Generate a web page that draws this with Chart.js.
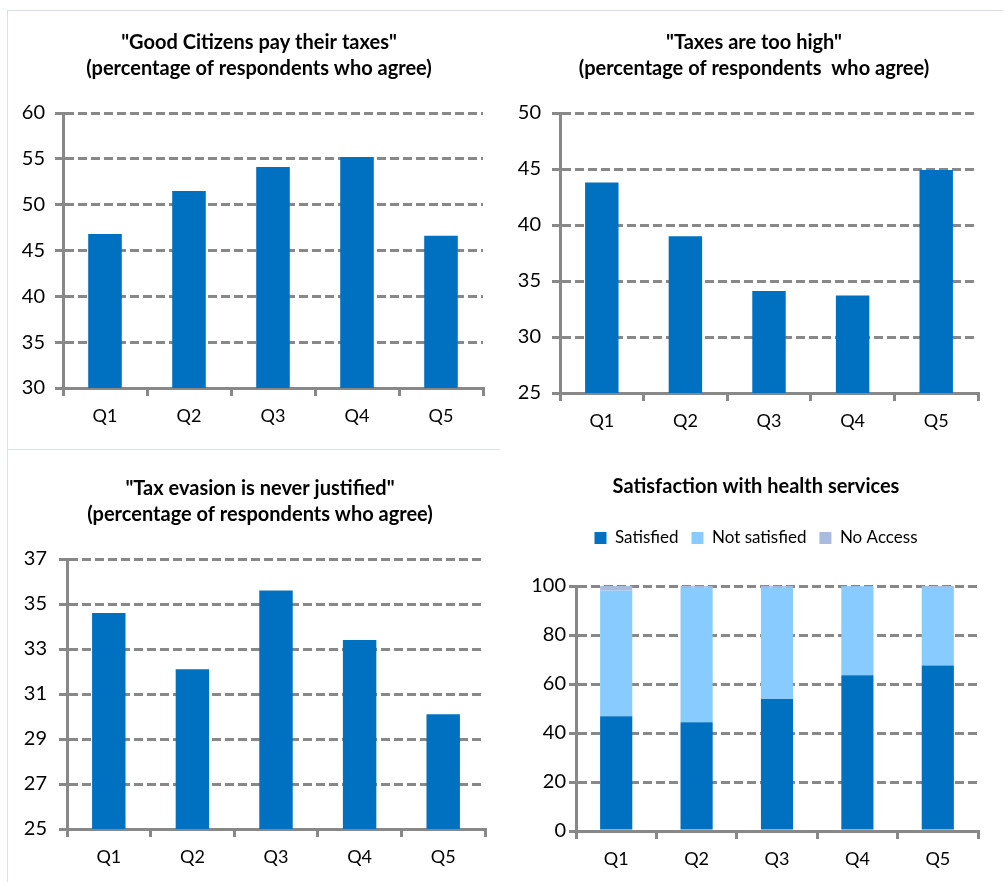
<!DOCTYPE html>
<html>
<head>
<meta charset="utf-8">
<script src="https://cdn.jsdelivr.net/npm/chart.js@4.4.3/dist/chart.umd.min.js"></script>
<style>
  body { margin: 0; background: #fff; width: 1007px; height: 882px; position: relative; overflow: hidden; }
  .panel { position: absolute; }
  .rule { position: absolute; background: #d9e0ea; }
</style>
</head>
<body>
<div class="rule" style="left:7px;top:10px;width:996px;height:1px"></div>
<div class="rule" style="left:7px;top:10px;width:1px;height:872px"></div>
<div class="rule" style="left:7px;top:449px;width:493px;height:1px"></div>

<div class="panel" style="left:0;top:0;width:518px;height:445px"><canvas id="citizens-chart"></canvas></div>
<div class="panel" style="left:501px;top:0;width:506px;height:445px"><canvas id="taxes-chart"></canvas></div>
<div class="panel" style="left:0;top:445px;width:520px;height:437px"><canvas id="evasion-chart"></canvas></div>
<div class="panel" style="left:505px;top:445px;width:502px;height:437px"><canvas id="health-chart"></canvas></div>

<script>
// values

const quintiles = ['Q1', 'Q2', 'Q3', 'Q4', 'Q5'];

const goodCitizens = [46.8, 51.5, 54.1, 55.2, 46.6];
const taxesTooHigh = [43.8, 39.0, 34.1, 33.7, 44.9];
const evasionNeverJustified = [34.6, 32.1, 35.6, 33.4, 30.1];

const satisfied = [46.8, 44.4, 53.9, 63.6, 67.6];
const notSatisfied = [51.4, 55.1, 45.6, 36.3, 32.0];
const noAccess = [1.8, 0.5, 0.5, 0.1, 0.4];

// [min, max, step]
const citizensAxis = [30, 60, 5];
const taxesAxis = [25, 50, 5];
const evasionAxis = [25, 37, 2];
const healthAxis = [0, 100, 20];

const citizensTitle = ['"Good Citizens pay their taxes"', '(percentage of respondents who agree)'];
const taxesTitle = ['"Taxes are too high"', '(percentage of respondents  who agree)'];
const evasionTitle = ['"Tax evasion is never justified"', '(percentage of respondents who agree)'];
const healthTitle = 'Satisfaction with health services';

// styling

const fontFamily = 'Lato, "Noto Sans", sans-serif';
const axisGrey = '#888888';
const barBlue = '#0070C0';
const lightBlue = '#88CBFF';
const greyBlue = '#A9BCDF';

// pushes the plot area down below the legend
const legendGap = {
    id: 'legendGap',
    beforeInit(chart) {
        if (!chart.legend) return;
        const fit = chart.legend.fit;
        chart.legend.fit = function () {
            fit.call(this);
            this.height += 29.5;
        };
    },
};

function makeChart(id, opts) {
    const [min, max, step] = opts.axis;
    const stacked = opts.datasets.length > 1;
    return new Chart(document.getElementById(id), {
        type: 'bar',
        data: {
            labels: quintiles,
            datasets: opts.datasets.map((ds) => ({
                label: ds.label,
                data: ds.data,
                backgroundColor: ds.color,
                borderWidth: 0,
                categoryPercentage: 1,
                barPercentage: 0.4,
            })),
        },
        plugins: opts.legend ? [legendGap] : [],
        options: {
            responsive: true,
            maintainAspectRatio: false,
            animation: false,
            layout: { padding: 0 },
            plugins: {
                title: {
                    display: true,
                    text: opts.title,
                    color: '#000',
                    font: { family: fontFamily, size: 20, weight: 'bold', lineHeight: '26px' },
                    padding: { top: opts.titleTop, bottom: opts.titleBottom },
                },
                legend: opts.legend ? {
                    display: true,
                    position: 'top',
                    labels: {
                        color: '#000',
                        boxWidth: 12,
                        boxHeight: 12,
                        padding: 13,
                        font: { family: fontFamily, size: 17 },
                    },
                } : { display: false },
                tooltip: { enabled: false },
            },
            scales: {
                x: {
                    stacked,
                    grid: {
                        offset: true,
                        drawOnChartArea: false,
                        drawTicks: true,
                        tickLength: 8,
                        color: axisGrey,
                        lineWidth: 3,
                    },
                    border: { display: true, color: axisGrey, width: 3 },
                    ticks: { color: '#000', padding: 9, font: { family: fontFamily, size: 18 } },
                    afterFit: (scale) => { scale.height = opts.xHeight; },
                },
                y: {
                    stacked,
                    min,
                    max,
                    grid: {
                        color: axisGrey,
                        lineWidth: 3,
                        tickLength: opts.tickLength,
                        tickColor: axisGrey,
                        tickWidth: 3,
                    },
                    border: { display: true, color: axisGrey, width: 3, dash: [9, 4] },
                    ticks: {
                        stepSize: step,
                        color: '#000',
                        padding: opts.tickPad,
                        font: { family: fontFamily, size: 20 },
                    },
                    afterFit: (scale) => { scale.width = opts.yWidth; },
                },
                // empty strip on the right so the title centres like the original
                spacer: {
                    type: 'linear',
                    position: 'right',
                    grid: { display: false, drawOnChartArea: false },
                    border: { display: false },
                    ticks: { display: false },
                    afterFit: (scale) => { scale.width = opts.spacer; },
                },
            },
        },
    });
}

function main() {
    makeChart('citizens-chart', {
        title: citizensTitle,
        datasets: [{ label: 'Agree', data: goodCitizens, color: barBlue }],
        axis: citizensAxis,
        yWidth: 63, spacer: 35, xHeight: 57,
        titleTop: 30, titleBottom: 31, tickLength: 8, tickPad: 10,
    });

    makeChart('taxes-chart', {
        title: taxesTitle,
        datasets: [{ label: 'Agree', data: taxesTooHigh, color: barBlue }],
        axis: taxesAxis,
        yWidth: 59, spacer: 29, xHeight: 52,
        titleTop: 30, titleBottom: 31, tickLength: 8, tickPad: 11,
    });

    makeChart('evasion-chart', {
        title: evasionTitle,
        datasets: [{ label: 'Agree', data: evasionNeverJustified, color: barBlue }],
        axis: evasionAxis,
        yWidth: 67, spacer: 35, xHeight: 53,
        titleTop: 31, titleBottom: 31, tickLength: 8, tickPad: 12,
    });

    makeChart('health-chart', {
        title: healthTitle,
        datasets: [
            { label: 'Satisfied', data: satisfied, color: barBlue },
            { label: 'Not satisfied', data: notSatisfied, color: lightBlue },
            { label: 'No Access', data: noAccess, color: greyBlue },
        ],
        axis: healthAxis,
        legend: true,
        yWidth: 71, spacer: 29, xHeight: 51,
        titleTop: 29, titleBottom: 16.5, tickLength: 7, tickPad: 3,
    });
}

main();
</script>
</body>
</html>
